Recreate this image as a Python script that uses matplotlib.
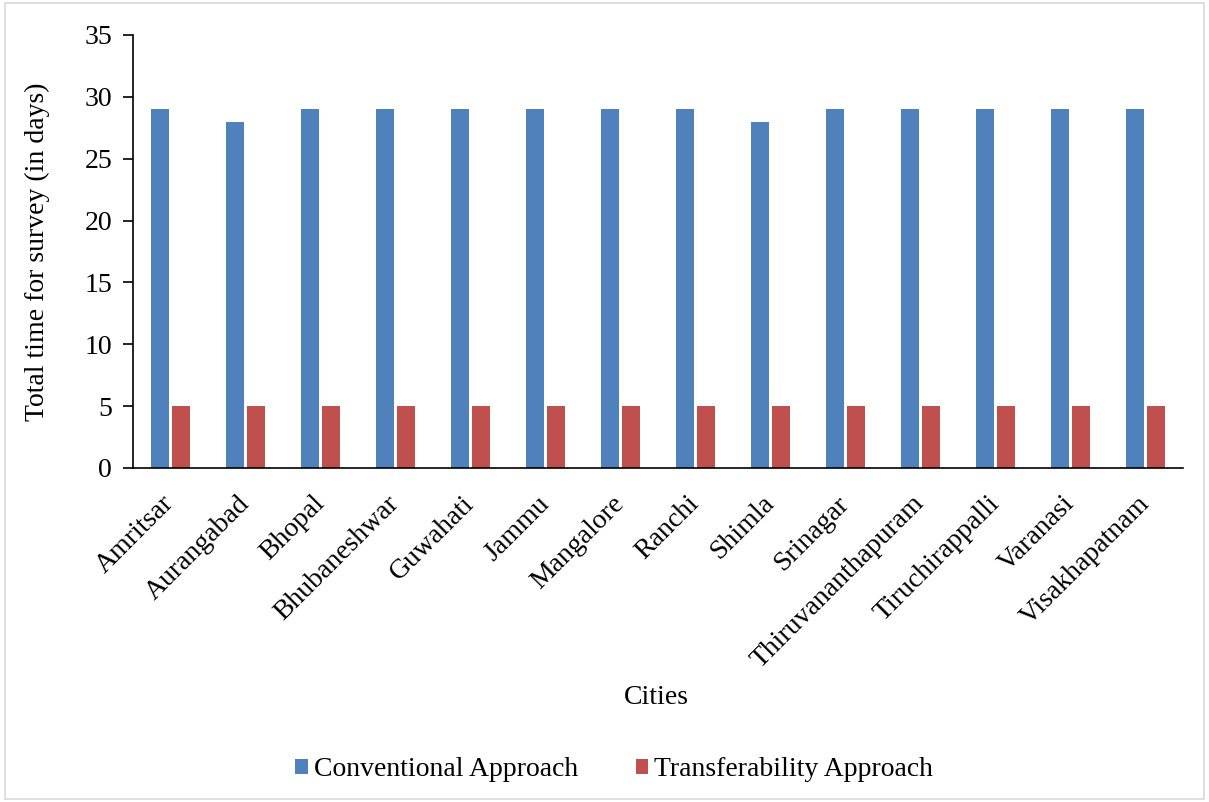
import numpy as np
import matplotlib.pyplot as plt
from matplotlib.patches import Rectangle

plt.rcParams['font.family'] = ['Liberation Serif', 'DejaVu Serif']

cities = ['Amritsar', 'Aurangabad', 'Bhopal', 'Bhubaneshwar', 'Guwahati', 'Jammu',
          'Mangalore', 'Ranchi', 'Shimla', 'Srinagar', 'Thiruvananthapuram',
          'Tiruchirappalli', 'Varanasi', 'Visakhapatnam']
conventional = [29, 28, 29, 29, 29, 29, 29, 29, 28, 29, 29, 29, 29, 29]
transferability = [5, 5, 5, 5, 5, 5, 5, 5, 5, 5, 5, 5, 5, 5]

fig = plt.figure(figsize=(12.09, 8.02), dpi=100)
ax = fig.add_axes([133 / 1209, 1 - 468 / 802, 1050 / 1209, 433 / 802])

# light grey frame round the whole chart area
fig.patches.append(Rectangle((0.004, 0.004), 0.992, 0.992, transform=fig.transFigure,
                             fill=False, edgecolor='#d9d9d9', linewidth=1.2))

x = np.arange(len(cities))
w = 0.227
ax.bar(x - 0.14, conventional, w, color='#4f81bd', label='Conventional Approach')
ax.bar(x + 0.14, transferability, w, color='#c0504d', label='Transferability Approach')

ax.set_xlim(-0.5, len(cities) - 0.5)
ax.set_ylim(0, 35)
ax.set_yticks(range(0, 36, 5))
ax.set_xticks(x)
ax.set_xticklabels(cities, rotation=45, ha='right', va='center', rotation_mode='anchor')
ax.tick_params(axis='x', length=0, pad=23, labelsize=20)
ax.tick_params(axis='y', length=7, width=1.2, direction='out', labelsize=20, pad=8)

for s in ['top', 'right']:
    ax.spines[s].set_visible(False)
ax.spines['left'].set_linewidth(1.2)
ax.spines['bottom'].set_linewidth(1.2)

ax.set_ylabel('Total time for survey (in days)', fontsize=20, labelpad=25)
fig.text(656 / 1209, 1 - 698 / 802, 'Cities', fontsize=20, ha='center', va='center')

fig.legend(loc='center', bbox_to_anchor=(0.508, 1 - 770 / 802), ncol=2, frameon=False,
           fontsize=20, handlelength=0.45, handleheight=0.45, handletextpad=0.2,
           columnspacing=2.1)

fig.savefig('out.png', dpi=100)
